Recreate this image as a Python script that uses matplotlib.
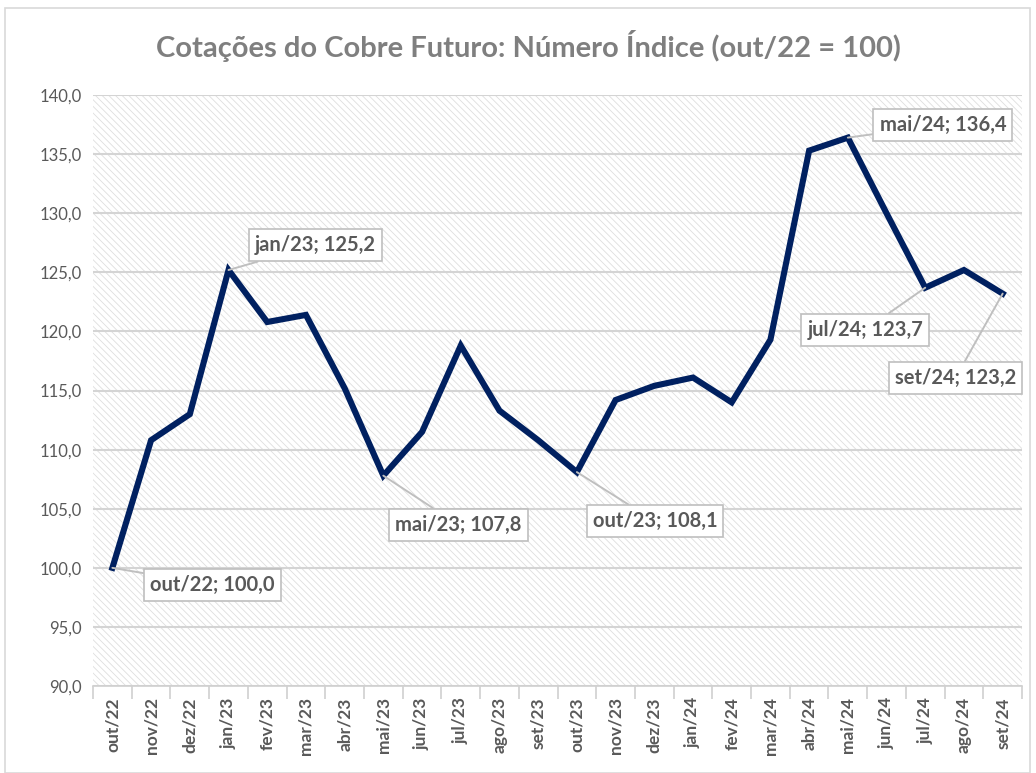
import matplotlib
matplotlib.use("Agg")
import matplotlib.pyplot as plt
from matplotlib.patches import Rectangle

# data
months = ["out/22", "nov/22", "dez/22", "jan/23", "fev/23", "mar/23", "abr/23", "mai/23",
          "jun/23", "jul/23", "ago/23", "set/23", "out/23", "nov/23", "dez/23", "jan/24",
          "fev/24", "mar/24", "abr/24", "mai/24", "jun/24", "jul/24", "ago/24", "set/24"]
index_values = [100.0, 110.8, 113.0, 125.2, 120.8, 121.4, 115.2, 107.8,
                111.5, 118.8, 113.3, 110.8, 108.1, 114.2, 115.4, 116.1,
                114.0, 119.3, 135.3, 136.4, 130.0, 123.7, 125.2, 123.2]
y_ticks = [90, 95, 100, 105, 110, 115, 120, 125, 130, 135, 140]

# which points get a callout, and where the box sits (pixel offset)
callouts = {"out/22": (100, -17), "jan/23": (87, 25), "mai/23": (75, -49),
            "out/23": (78, -49), "mai/24": (95, 13), "jul/24": (-60, -42),
            "set/24": (-47, -84)}

plt.rcParams['font.family'] = ['Lato', 'DejaVu Sans']
plt.rcParams['hatch.color'] = '#dedede'
plt.rcParams['hatch.linewidth'] = 0.6

grey = "#595959"
fig = plt.figure(figsize=(10.36, 7.73), dpi=100)
fig.patches.append(Rectangle((0.005, 0.0), 0.989, 0.99, transform=fig.transFigure,
                             fill=False, edgecolor="#d9d9d9", linewidth=1.2))

ax = fig.add_axes([0.0898, 0.1125, 0.8967, 0.7645])
ax.set_facecolor("white")
ax.add_patch(Rectangle((0, 0), 1, 1, transform=ax.transAxes, facecolor="white",
                       edgecolor="#dedede", hatch="\\" * 5, linewidth=0, zorder=-1))

x = list(range(len(months)))
ax.plot(x, index_values, color="#002060", linewidth=4.4, solid_joinstyle="miter", zorder=3)

ax.set_xlim(-0.5, len(months) - 0.5)
ax.set_ylim(90, 140)
ax.set_yticks(y_ticks)
ax.set_yticklabels([f"{v:.1f}".replace(".", ",") for v in y_ticks], color=grey, fontsize=12)
ax.set_xticks(x)
ax.set_xticklabels(months, rotation=90, color=grey, fontsize=12.5, fontweight="bold")
ax.set_xticks([i - 0.5 for i in range(len(months) + 1)], minor=True)
ax.tick_params(axis="x", which="major", length=0, pad=8)
ax.tick_params(axis="x", which="minor", length=9, color="#d0d0d0", width=1.2)
ax.tick_params(axis="y", length=0, pad=8)

ax.grid(axis="y", color="#d4d4d4", linewidth=1.5, zorder=1)
ax.set_axisbelow(True)
for side in ["top", "right", "left"]:
    ax.spines[side].set_visible(False)
ax.spines["bottom"].set_color("#d0d0d0")
ax.spines["bottom"].set_linewidth(1.2)

for name, (dx, dy) in callouts.items():
    i = months.index(name)
    v = index_values[i]
    ax.annotate(f"{name}; {v:.1f}".replace(".", ","), xy=(i, v), xytext=(dx, dy),
                textcoords="offset pixels", ha="center", va="center",
                fontsize=14.5, fontweight="bold", color=grey, zorder=5,
                bbox=dict(boxstyle="square,pad=0.3", fc="white", ec="#bfbfbf", lw=1.2),
                arrowprops=dict(arrowstyle="-", color="#bfbfbf", lw=1.4,
                                shrinkA=0, shrinkB=0))

fig.text(0.51, 0.94, "Cotações do Cobre Futuro: Número Índice (out/22 = 100)",
         ha="center", va="center", fontsize=21, fontweight="bold", color="#7f7f7f")

fig.savefig("out.png", dpi=100)
